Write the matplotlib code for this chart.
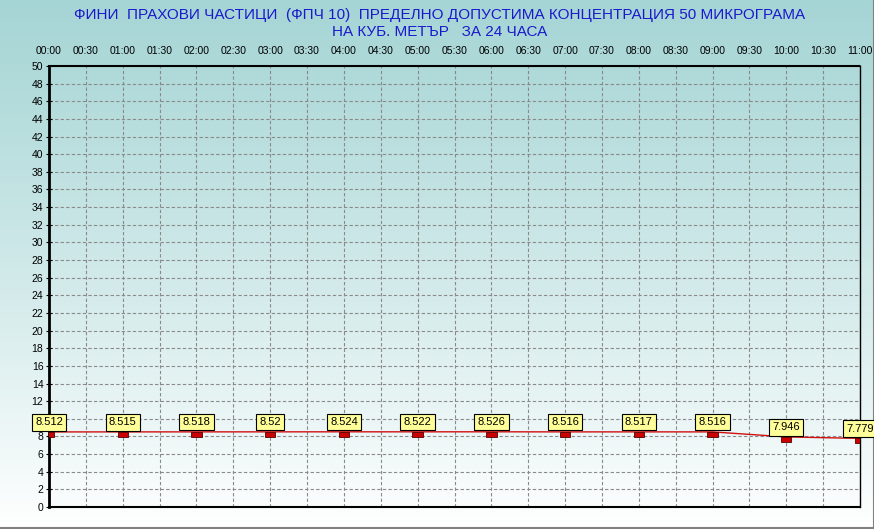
import numpy as np
import matplotlib.pyplot as plt
from matplotlib.patches import Rectangle

plt.rcParams['font.family'] = ['Liberation Sans', 'DejaVu Sans']

# data
tick_labels = ['00:00', '00:30', '01:00', '01:30', '02:00', '02:30', '03:00', '03:30',
               '04:00', '04:30', '05:00', '05:30', '06:00', '06:30', '07:00', '07:30',
               '08:00', '08:30', '09:00', '09:30', '10:00', '10:30', '11:00']
hours = [0, 1, 2, 3, 4, 5, 6, 7, 8, 9, 10, 11]
values = [8.512, 8.515, 8.518, 8.52, 8.524, 8.522, 8.526, 8.516, 8.517, 8.516, 7.946, 7.779]
value_labels = ['8.512', '8.515', '8.518', '8.52', '8.524', '8.522', '8.526', '8.516',
                '8.517', '8.516', '7.946', '7.779']

title = ('ФИНИ  ПРАХОВИ ЧАСТИЦИ  (ФПЧ 10)  ПРЕДЕЛНО ДОПУСТИМА КОНЦЕНТРАЦИЯ 50 МИКРОГРАМА\n'
         'НА КУБ. МЕТЪР   ЗА 24 ЧАСА')

fig = plt.figure(figsize=(8.74, 5.29), dpi=100)

# gradient background
bg = fig.add_axes([0, 0, 1, 1], zorder=-10)
grad = np.linspace(0, 1, 256).reshape(-1, 1)
top = np.array([166, 213, 213]) / 255
bottom = np.array([255, 255, 255]) / 255
img = top + (bottom - top) * grad[:, :, None] ** 1.1
bg.imshow(img, aspect='auto', extent=[0, 1, 0, 1])
bg.plot([0, 1, 1], [1.5 / 529, 1.5 / 529, 1], color='#808080', lw=1.5,
        transform=bg.transAxes, clip_on=False)
bg.set_xlim(0, 1)
bg.set_ylim(0, 1)
bg.axis('off')

fig.text(0.503, 1 - 8 / 529, title, ha='center', va='top', color='#1a1acc',
         fontsize=11, linespacing=1.25)

ax = fig.add_axes([49 / 874, 22 / 529, 811 / 874, 441 / 529])
ax.patch.set_alpha(0)

x = np.array(hours, dtype=float)
ax.plot(x, values, color='#d01010', lw=1, zorder=3)
for xi, v, lab in zip(x, values, value_labels):
    ax.add_patch(Rectangle((xi - 0.07, v - 0.55), 0.14, 0.55, facecolor='#cc0000',
                           edgecolor='#550000', lw=0.6, zorder=4))
    ax.annotate(lab, (xi, v), xytext=(0, 7), textcoords='offset points',
                ha='center', va='center', fontsize=8, zorder=5,
                bbox=dict(boxstyle='square,pad=0.3', fc='#ffff99', ec='black', lw=0.8))

ax.set_xlim(0, 11)
ax.set_ylim(0, 50)
ax.set_xticks(np.arange(0, 11.01, 0.5))
ax.set_xticklabels(tick_labels)
ax.set_yticks(np.arange(0, 51, 2))
ax.xaxis.tick_top()
ax.tick_params(axis='x', length=0, labelsize=7.5, pad=7)
ax.tick_params(axis='y', length=4, width=0.8, direction='inout', labelsize=7.5, pad=2)
ax.grid(True, color='#8a8a8a', linestyle=(0, (3, 2)), lw=0.8)
ax.set_axisbelow(True)

ax.spines['left'].set_linewidth(2)
ax.spines['right'].set_linewidth(1)
for s in ('top', 'bottom'):
    ax.spines[s].set_linestyle((0, (2, 1)))
    ax.spines[s].set_linewidth(1.5)

fig.savefig('out.png', dpi=100)
